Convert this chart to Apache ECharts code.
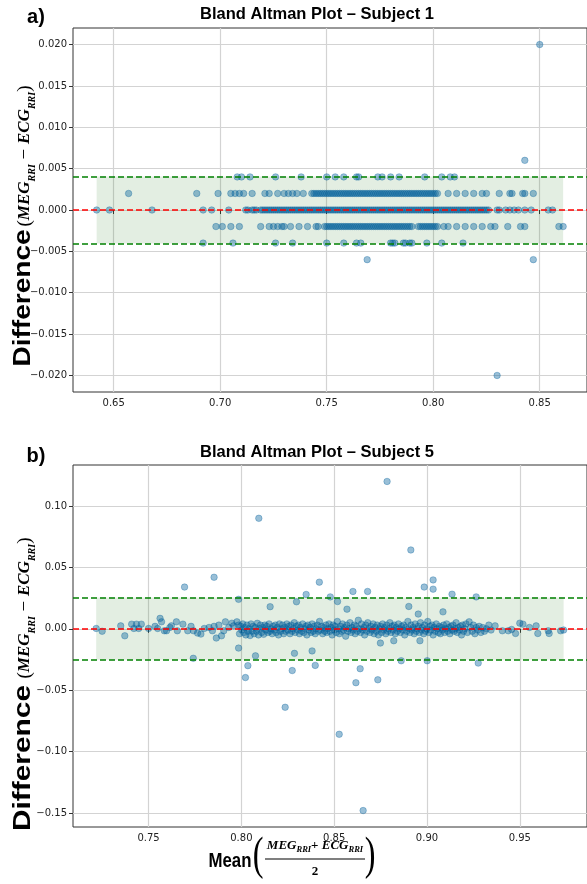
<!DOCTYPE html>
<html>
<head>
<meta charset="utf-8">
<script src="https://cdn.jsdelivr.net/npm/echarts@6/dist/echarts.min.js"></script>
<style>
html,body{margin:0;padding:0;background:#fff}
#main{width:587px;height:884px}
</style>
</head>
<body>
<div id="main"></div>
<script>
// ---- Subject 1 : differences are quantised in steps of 0.002 s ----
var s1Zero = [0.642,0.648,0.668,0.692,0.696,0.704,
  0.712,0.713,0.715,0.716,0.717,0.719,0.720,0.721,0.722,0.723,0.724,0.725,0.726,0.727,0.728,0.729,
  0.730,0.731,0.732,0.733,0.734,0.735,0.736,0.737,0.738,0.739,0.740,0.741,0.742,0.743,0.744,0.745,
  0.746,0.747,0.748,0.749,0.750,0.751,0.752,0.753,0.754,0.755,0.756,0.757,0.758,0.759,0.760,0.761,
  0.762,0.763,0.764,0.765,0.766,0.767,0.768,0.769,0.770,0.771,0.772,0.773,0.774,0.775,0.776,0.777,
  0.778,0.779,0.780,0.781,0.782,0.783,0.784,0.785,0.786,0.787,0.788,0.789,0.790,0.791,0.792,0.793,
  0.794,0.795,0.796,0.797,0.798,0.799,0.800,0.801,0.802,0.803,0.804,0.805,0.806,0.807,0.808,0.809,
  0.810,0.811,0.812,0.813,0.814,0.815,0.816,0.817,0.818,0.819,0.820,0.821,0.822,0.823,0.824,0.825,
  0.826,0.830,0.831,0.834,0.836,0.838,0.840,0.843,0.846,0.854,0.856];
var s1Up2 = [0.657,0.689,0.699,0.705,0.707,0.709,0.711,0.715,0.721,0.723,0.727,0.730,0.732,0.734,0.736,0.739,
  0.743,0.744,0.745,0.746,0.747,0.748,0.749,0.750,0.751,0.752,0.753,0.754,0.755,0.756,0.757,0.758,
  0.759,0.760,0.761,0.762,0.763,0.764,0.765,0.766,0.767,0.768,0.769,0.770,0.771,0.772,0.773,0.774,
  0.775,0.776,0.777,0.778,0.779,0.780,0.781,0.782,0.783,0.784,0.785,0.786,0.787,0.788,0.789,0.790,
  0.791,0.792,0.793,0.794,0.795,0.796,0.797,0.798,0.799,0.800,0.801,0.802,
  0.807,0.811,0.815,0.819,0.823,0.825,0.831,0.836,0.837,0.842,0.843,0.847];
var s1Dn2 = [0.698,0.701,0.705,0.709,0.719,0.723,0.725,0.727,0.729,0.730,0.733,0.737,0.741,0.745,0.746,0.749,
  0.750,0.751,0.752,0.753,0.754,0.755,0.756,0.757,0.758,0.759,0.760,0.761,0.762,0.763,0.764,0.765,
  0.766,0.767,0.768,0.769,0.770,0.771,0.772,0.773,0.774,0.775,0.776,0.777,0.778,0.779,0.780,0.781,
  0.782,0.783,0.784,0.785,0.786,0.787,0.788,0.789,0.790,0.793,0.794,0.795,0.796,0.797,0.798,0.799,
  0.800,0.801,0.802,0.805,0.807,0.811,0.815,0.819,0.823,0.827,0.829,0.835,0.841,0.843,0.859,0.861];
var s1Up4 = [0.708,0.710,0.714,0.726,0.738,0.750,0.754,0.758,0.764,0.765,0.774,0.776,0.780,0.784,0.796,0.804,0.808,0.810];
var s1Dn4 = [0.692,0.706,0.726,0.734,0.750,0.758,0.764,0.766,0.780,0.781,0.782,0.786,0.787,0.789,0.790,0.797,0.804,0.814];
var s1Other = [[0.843,0.006],[0.769,-0.006],[0.847,-0.006],[0.850,0.020],[0.830,-0.020]];
var s1Mean = 0, s1Upper = 0.00404, s1Lower = -0.00404;
var s1Span = [0.642, 0.861];
var s1XRange = [0.6309, 0.8722];
var s1YRange = [-0.022, 0.022];
var s1XTicks = [0.65, 0.70, 0.75, 0.80, 0.85];
var s1YTicks = [-0.020, -0.015, -0.010, -0.005, 0.000, 0.005, 0.010, 0.015, 0.020];

// ---- Subject 5 : [mean, difference] ----
var s5Points = [
  [0.7218,0.0003],[0.7250,-0.0020],[0.7350,0.0024],[0.7372,-0.0057],[0.7409,0.0038],[0.7421,0.0003],
  [0.7435,0.0038],[0.7447,0.0003],[0.7461,0.0038],[0.7500,0.0003],[0.7535,0.0020],[0.7549,0.0003],
  [0.7562,0.0085],[0.7570,0.0057],[0.7585,-0.0016],[0.7597,-0.0016],[0.7615,0.0011],[0.7623,0.0024],
  [0.7650,0.0057],[0.7655,-0.0016],[0.7685,0.0038],[0.7711,-0.0016],[0.7729,0.0020],[0.7742,-0.0016],
  [0.7764,-0.0035],[0.7782,-0.0043],[0.7800,0.0003],[0.7826,0.0011],[0.7844,-0.0016],[0.7853,0.0020],
  [0.7865,-0.0075],[0.7879,0.0030],[0.7893,-0.0057],[0.7905,-0.0016],[0.7914,0.0057],[0.7932,0.0011],
  [0.7949,0.0046],[0.7958,0.0024],[0.7976,0.0057],[0.7985,0.0030],
  [0.7990,-0.0040],[0.7996,0.0020],[0.8002,-0.0010],[0.8008,0.0040],[0.8013,-0.0030],[0.8019,0.0010],
  [0.8024,-0.0050],[0.8030,0.0030],[0.8036,-0.0020],[0.8041,0.0000],[0.8047,-0.0055],[0.8052,0.0040],
  [0.8058,-0.0020],[0.8064,0.0020],[0.8069,-0.0040],[0.8075,0.0010],[0.8081,-0.0020],[0.8086,0.0045],
  [0.8092,-0.0050],[0.8098,0.0000],[0.8103,0.0030],[0.8109,-0.0030],[0.8115,0.0010],[0.8120,-0.0045],
  [0.8126,0.0030],[0.8132,-0.0010],[0.8137,0.0020],[0.8143,-0.0030],[0.8149,0.0040],[0.8154,-0.0020],
  [0.8160,0.0000],[0.8166,-0.0040],[0.8171,0.0020],[0.8177,-0.0010],[0.8183,0.0030],[0.8188,-0.0030],
  [0.8194,0.0010],[0.8200,-0.0050],[0.8205,0.0040],[0.8211,-0.0020],[0.8217,0.0000],[0.8222,0.0030],
  [0.8228,-0.0040],[0.8234,0.0010],[0.8239,-0.0020],[0.8245,0.0040],[0.8251,-0.0010],[0.8256,0.0020],
  [0.8262,-0.0040],[0.8268,0.0030],[0.8273,-0.0020],[0.8279,0.0000],[0.8285,0.0050],[0.8290,-0.0030],
  [0.8296,0.0020],[0.8302,-0.0010],[0.8307,0.0030],[0.8313,-0.0040],[0.8319,0.0010],[0.8324,-0.0020],
  [0.8330,0.0040],[0.8336,-0.0030],[0.8341,0.0000],[0.8347,0.0020],[0.8353,-0.0050],[0.8358,0.0030],
  [0.8364,-0.0010],[0.8370,0.0010],[0.8375,-0.0030],[0.8381,0.0040],[0.8387,-0.0020],[0.8392,0.0020],
  [0.8398,-0.0040],[0.8404,0.0000],[0.8409,0.0030],[0.8415,-0.0020],[0.8421,0.0060],[0.8426,-0.0010],
  [0.8432,0.0020],[0.8438,-0.0040],[0.8443,0.0010],[0.8449,-0.0020],[0.8455,0.0030],[0.8460,-0.0030],
  [0.8466,0.0000],[0.8472,0.0040],[0.8477,-0.0020],[0.8483,0.0010],[0.8489,-0.0050],[0.8494,0.0030],
  [0.8500,-0.0010],[0.8506,0.0020],[0.8511,-0.0030],[0.8517,0.0060],[0.8523,0.0000],[0.8528,-0.0040],
  [0.8534,0.0020],[0.8540,-0.0020],[0.8545,0.0040],[0.8551,-0.0010],[0.8557,0.0010],[0.8562,-0.0060],
  [0.8568,0.0030],[0.8574,-0.0020],[0.8579,0.0000],[0.8585,0.0050],[0.8591,-0.0030],[0.8596,0.0010],
  [0.8602,-0.0010],[0.8608,0.0030],[0.8613,-0.0040],[0.8619,0.0020],[0.8625,-0.0020],[0.8630,0.0070],
  [0.8636,0.0000],[0.8642,-0.0030],[0.8647,0.0040],[0.8653,-0.0010],[0.8659,0.0010],[0.8664,-0.0050],
  [0.8670,0.0030],[0.8676,-0.0020],[0.8681,0.0050],[0.8687,0.0000],[0.8693,-0.0030],[0.8698,0.0020],
  [0.8704,-0.0010],[0.8710,0.0040],[0.8715,-0.0040],[0.8721,0.0010],[0.8727,-0.0020],[0.8732,0.0030],
  [0.8738,-0.0050],[0.8744,0.0000],[0.8749,0.0020],[0.8755,-0.0030],[0.8761,0.0040],[0.8766,-0.0010],
  [0.8772,0.0010],[0.8778,-0.0040],[0.8783,0.0030],[0.8789,-0.0020],[0.8795,0.0000],[0.8800,0.0050],
  [0.8806,-0.0030],[0.8812,0.0020],[0.8817,-0.0010],[0.8823,0.0030],[0.8829,-0.0040],[0.8834,0.0010],
  [0.8840,-0.0020],[0.8846,0.0040],[0.8851,0.0000],[0.8857,-0.0030],[0.8863,0.0020],[0.8868,-0.0010],
  [0.8874,0.0030],[0.8880,-0.0050],[0.8885,0.0010],[0.8891,-0.0020],[0.8897,0.0060],[0.8902,0.0000],
  [0.8908,-0.0030],[0.8914,0.0030],[0.8919,-0.0010],[0.8925,0.0010],[0.8931,-0.0040],[0.8936,0.0040],
  [0.8942,-0.0020],[0.8948,0.0000],[0.8953,0.0020],[0.8959,-0.0030],[0.8965,0.0050],[0.8970,-0.0010],
  [0.8976,0.0010],[0.8982,-0.0040],[0.8987,0.0030],[0.8993,-0.0020],[0.8999,0.0000],[0.9004,0.0060],
  [0.9010,-0.0030],[0.9016,0.0020],[0.9021,-0.0010],[0.9027,0.0030],[0.9033,-0.0050],[0.9038,0.0010],
  [0.9044,-0.0020],[0.9050,0.0040],[0.9055,0.0000],[0.9061,-0.0030],[0.9067,0.0020],[0.9072,-0.0040],
  [0.9078,0.0010],[0.9084,-0.0010],[0.9089,0.0030],[0.9095,-0.0030],[0.9101,0.0000],[0.9106,0.0040],
  [0.9112,-0.0020],[0.9118,0.0010],[0.9123,-0.0040],[0.9129,0.0020],[0.9135,-0.0010],[0.9140,0.0030],
  [0.9146,-0.0020],[0.9152,0.0000],[0.9157,0.0050],[0.9163,-0.0030],[0.9169,0.0010],[0.9174,-0.0010],
  [0.9180,0.0020],[0.9186,-0.0050],[0.9191,0.0030],[0.9197,-0.0020],[0.9203,0.0000],[0.9210,0.0040],
  [0.9218,-0.0030],[0.9227,0.0057],[0.9235,0.0010],[0.9243,-0.0020],[0.9250,0.0030],[0.9258,-0.0040],
  [0.9265,0.0010],[0.9273,-0.0010],[0.9281,0.0020],[0.9290,-0.0030],[0.9300,0.0010],[0.9310,-0.0020],
  [0.9320,0.0000],[0.9333,0.0030],[0.9345,-0.0010],[0.9367,0.0024],[0.9406,-0.0016],[0.9438,-0.0016],
  [0.9456,-0.0005],[0.9477,-0.0038],[0.9500,0.0046],[0.9517,0.0038],[0.9552,0.0011],[0.9588,0.0024],
  [0.9597,-0.0038],[0.9653,-0.0016],[0.9658,-0.0038],[0.9720,-0.0016],[0.9736,-0.0010],
  // outliers
  [0.8094,0.0900],[0.7853,0.0420],[0.7694,0.0340],[0.7985,0.0240],[0.8155,0.0180],[0.8349,0.0280],
  [0.8297,0.0220],[0.8420,0.0380],[0.7985,-0.0157],[0.8076,-0.0220],[0.7741,-0.0240],[0.8035,-0.0300],
  [0.8022,-0.0397],[0.8274,-0.0340],[0.8286,-0.0200],[0.8381,-0.0180],[0.8398,-0.0298],[0.8640,-0.0325],
  [0.8617,-0.0439],[0.8735,-0.0415],[0.8236,-0.0639],[0.8527,-0.0859],[0.8656,-0.1480],[0.8913,0.0642],
  [0.9033,0.0398],[0.8985,0.0340],[0.9033,0.0323],[0.8601,0.0304],[0.8680,0.0304],[0.9135,0.0282],
  [0.8479,0.0260],[0.9265,0.0260],[0.8518,0.0222],[0.8569,0.0160],[0.8902,0.0182],[0.9086,0.0138],
  [0.8953,0.0120],[0.8749,-0.0116],[0.8821,-0.0097],[0.8962,-0.0097],[0.8861,-0.0260],[0.9001,-0.0260],
  [0.9276,-0.0279],[0.8785,0.1200]
];
var s5Mean = 0.0002, s5Upper = 0.0255, s5Lower = -0.0252;
var s5Span = [0.7218, 0.9736];
var s5XRange = [0.7093, 0.9862];
var s5YRange = [-0.1614, 0.1334];
var s5XTicks = [0.75, 0.80, 0.85, 0.90, 0.95];
var s5YTicks = [-0.15, -0.10, -0.05, 0.00, 0.05, 0.10];

var chart = echarts.init(document.getElementById('main'));

// put every x of one difference level on that level
function level(xs, d){
	var out = [];
	for (var i = 0; i < xs.length; i++) out.push([xs[i], d]);
	return out;
}
var s1Data = [].concat(level(s1Zero, 0), level(s1Up2, 0.002), level(s1Dn2, -0.002),
	level(s1Up4, 0.004), level(s1Dn4, -0.004), s1Other);

function signed(v, n){
	return (v < -1e-9 ? '\u2212' : '') + Math.abs(v).toFixed(n);
}

var tickFont = {color:'#222', fontFamily:'DejaVu Sans', fontSize:10};

function xAx(idx, range, ticks){
	return {
		gridIndex: idx, type:'value', min: range[0], max: range[1],
		splitLine:{show:false}, axisLine:{show:false},
		axisTick:{show:true, customValues: ticks, length:4, lineStyle:{color:'#333'}},
		axisLabel:Object.assign({customValues: ticks, margin:6,
			formatter:function(v){ return v.toFixed(2); }}, tickFont)
	};
}
function yAx(idx, range, ticks, n){
	return {
		gridIndex: idx, type:'value', min: range[0], max: range[1],
		splitLine:{show:false}, axisLine:{show:false},
		axisTick:{show:true, customValues: ticks, length:4, lineStyle:{color:'#333'}},
		axisLabel:Object.assign({customValues: ticks, margin:6,
			formatter:function(v){ return signed(v, n); }}, tickFont)
	};
}

// gridlines, band, dashed lines and points of one panel
function panel(idx, data, xt, yt, span, lo, hi, mean){
	var gl = [];
	xt.forEach(function(v){ gl.push({xAxis:v}); });
	yt.forEach(function(v){ gl.push({yAxis:v}); });
	return [
		{ type:'scatter', xAxisIndex:idx, yAxisIndex:idx, data:[], silent:true,
		  markLine:{ z:0, silent:true, precision:6, symbol:['none','none'], label:{show:false},
		    lineStyle:{color:'#d3d3d3', width:1.2, type:'solid'}, data: gl } },
		{ type:'scatter', xAxisIndex:idx, yAxisIndex:idx, data:[], silent:true,
		  markArea:{ z:1, silent:true, itemStyle:{color:'rgba(40,120,30,0.13)'},
		    data:[[{coord:[span[0], lo]}, {coord:[span[1], hi]}]] } },
		{ type:'scatter', xAxisIndex:idx, yAxisIndex:idx, z:2, data:data, symbolSize:6.5,
		  itemStyle:{color:'rgba(0,95,155,0.5)', borderColor:'rgba(0,95,155,0.5)', borderWidth:0.8} },
		{ type:'scatter', xAxisIndex:idx, yAxisIndex:idx, data:[], silent:true,
		  markLine:{ z:3, silent:true, precision:6, symbol:['none','none'], label:{show:false},
		    data:[
		      {yAxis:hi, lineStyle:{color:'#008000', width:1.5, type:[6,3]}},
		      {yAxis:lo, lineStyle:{color:'#008000', width:1.5, type:[6,3]}},
		      {yAxis:mean, lineStyle:{color:'#ff0000', width:1.5, type:[6,3]}}
		    ] } }
	];
}

// y label: "Difference" (stretched along the text) + formula, both read bottom to top
function yWord(cx, cy, sc){
	return { type:'text', x:cx, y:cy, rotation:Math.PI/2, scaleX:sc, silent:true,
		style:{text:'Difference', font:'bold 23px "Liberation Sans"', fill:'#000', align:'center', verticalAlign:'middle'} };
}
function yFormula(cx, cy){
	return { type:'text', x:cx, y:cy, rotation:Math.PI/2, silent:true,
		style:{
			text:'{p|(}{v|MEG}{s|RRI}{p| \u2212 }{v|ECG}{s|RRI}{p|)}',
			align:'center', verticalAlign:'middle',
			rich:{
				p:{fontFamily:'Liberation Serif', fontSize:19, fill:'#000'},
				v:{fontFamily:'Liberation Serif', fontStyle:'italic', fontWeight:'bold', fontSize:17, fill:'#000', lineHeight:24},
				s:{fontFamily:'Liberation Serif', fontStyle:'italic', fontWeight:'bold', fontSize:10, fill:'#000', verticalAlign:'bottom'}
			}
		} };
}
function plain(x, y, txt, font){
	return { type:'text', x:x, y:y, silent:true,
		style:{text:txt, font:font, fill:'#000', align:'center', verticalAlign:'middle'} };
}

var option = {
	animation:false,
	backgroundColor:'#fff',
	grid:[
		{left:73, top:28, width:524, height:364, show:true, borderColor:'#333', borderWidth:1, backgroundColor:'transparent'},
		{left:73, top:465, width:524, height:362, show:true, borderColor:'#333', borderWidth:1, backgroundColor:'transparent'}
	],
	xAxis:[ xAx(0, s1XRange, s1XTicks), xAx(1, s5XRange, s5XTicks) ],
	yAxis:[ yAx(0, s1YRange, s1YTicks, 3), yAx(1, s5YRange, s5YTicks, 2) ],
	series: [].concat(
		panel(0, s1Data, s1XTicks, s1YTicks, s1Span, s1Lower, s1Upper, s1Mean),
		panel(1, s5Points, s5XTicks, s5YTicks, s5Span, s5Lower, s5Upper, s5Mean)
	),
	graphic:[
		plain(36, 17, 'a)', 'bold 20px "Liberation Sans"'),
		plain(317, 14, 'Bland Altman Plot \u2013 Subject 1', 'bold 16.5px "Liberation Sans"'),
		plain(36, 456, 'b)', 'bold 20px "Liberation Sans"'),
		plain(317, 452, 'Bland Altman Plot \u2013 Subject 5', 'bold 16.5px "Liberation Sans"'),
		yWord(24, 298, 1.22),
		yFormula(25, 156),
		yWord(24, 758, 1.3),
		yFormula(25, 608),
		// x label: Mean ( fraction )
		{ type:'text', x:230, y:861, scaleX:0.8, silent:true,
		  style:{text:'Mean', font:'bold 21px "Liberation Sans"', fill:'#000', align:'center', verticalAlign:'middle'} },
		{ type:'text', x:258, y:857, scaleX:0.7, silent:true,
		  style:{text:'(', font:'46px "Liberation Serif"', fill:'#000', align:'center', verticalAlign:'middle'} },
		{ type:'text', x:370, y:857, scaleX:0.7, silent:true,
		  style:{text:')', font:'46px "Liberation Serif"', fill:'#000', align:'center', verticalAlign:'middle'} },
		{ type:'text', x:315, y:846, silent:true,
		  style:{ text:'{v|MEG}{s|RRI}{p|+ }{v|ECG}{s|RRI}', align:'center', verticalAlign:'middle',
		    rich:{
		      v:{fontFamily:'Liberation Serif', fontStyle:'italic', fontWeight:'bold', fontSize:13, fill:'#000', lineHeight:17},
		      s:{fontFamily:'Liberation Serif', fontStyle:'italic', fontWeight:'bold', fontSize:8.5, fill:'#000', verticalAlign:'bottom'},
		      p:{fontFamily:'Liberation Serif', fontWeight:'bold', fontSize:13, fill:'#000'}
		    } } },
		{ type:'line', silent:true, shape:{x1:265, y1:859, x2:365, y2:859}, style:{stroke:'#000', lineWidth:1.2} },
		plain(315, 872, '2', 'bold 13px "Liberation Serif"')
	]
};
chart.setOption(option);
</script>
</body>
</html>
